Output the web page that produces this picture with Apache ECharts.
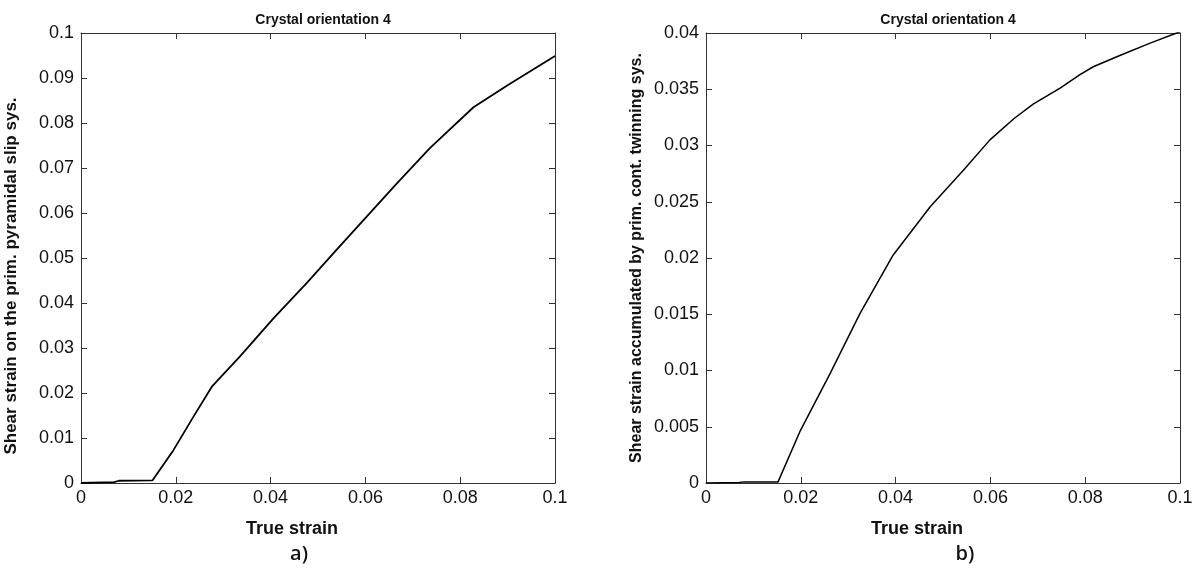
<!DOCTYPE html>
<html>
<head>
<meta charset="utf-8">
<script src="https://cdn.jsdelivr.net/npm/echarts@6/dist/echarts.min.js"></script>
<style>
  html, body { margin: 0; padding: 0; background: #fff; }
  #chart { width: 1200px; height: 571px; }
</style>
</head>
<body>
<div id="chart"></div>
<script>
// Panel a): shear strain on the primary pyramidal slip system
const strainA = [0, 0.007, 0.008, 0.0151, 0.0195, 0.0237, 0.0276, 0.0335, 0.0406, 0.0476, 0.0539, 0.0596, 0.0665, 0.0736, 0.0828, 0.0900, 0.1000];
const shearA  = [0, 0.0002, 0.0005, 0.0006, 0.0073, 0.0147, 0.0214, 0.0281, 0.0366, 0.0444, 0.0518, 0.0584, 0.0664, 0.0744, 0.0835, 0.0884, 0.0949];

// Panel b): shear strain accumulated by the primary contraction twinning system
const strainB = [0, 0.007, 0.008, 0.0152, 0.0198, 0.0262, 0.0325, 0.0395, 0.0473, 0.0543, 0.0599, 0.0650, 0.0691, 0.0747, 0.0789, 0.0817, 0.0873, 0.0937, 0.0993, 0.1000];
const shearB  = [0, 0.00005, 0.0001, 0.0001, 0.00456, 0.00975, 0.01508, 0.02027, 0.02456, 0.0278, 0.0305, 0.0324, 0.0337, 0.0351, 0.0363, 0.0370, 0.0380, 0.0391, 0.0400, 0.0401];

const xTicks = { min: 0, max: 0.1, interval: 0.02 };
const yTicksA = { min: 0, max: 0.1, interval: 0.01 };
const yTicksB = { min: 0, max: 0.04, interval: 0.005 };

const panelTitle = 'Crystal orientation 4';
const xName = 'True strain';
const yNameA = 'Shear strain on the prim. pyramidal slip sys.';
const yNameB = 'Shear strain accumulated by prim. cont. twinning sys.';

const fmt = v => String(+v.toFixed(4));
const axisColor = '#333';
const sans = 'Liberation Sans, Arial, sans-serif';
const labelFont = { fontFamily: sans, fontSize: 18, color: '#111' };

function pairs(xs, ys) { return xs.map((x, i) => [x, ys[i]]); }

function xAxes(gridIndex) {
  const base = {
    type: 'value', gridIndex, min: xTicks.min, max: xTicks.max, interval: xTicks.interval,
    axisLine: { show: true, onZero: false, lineStyle: { color: axisColor, width: 1 } },
    axisTick: { show: true, inside: true, length: 6, lineStyle: { color: axisColor } },
    splitLine: { show: false }
  };
  return [
    Object.assign({}, base, {
      position: 'bottom',
      axisLabel: Object.assign({ formatter: fmt, margin: 6 }, labelFont),
      name: xName, nameLocation: 'middle', nameGap: 37,
      nameTextStyle: { fontFamily: sans, fontSize: 18, fontWeight: 'bold', color: '#111', padding: [0, 52, 0, 0] }
    }),
    Object.assign({}, base, { position: 'top', axisLabel: { show: false } })
  ];
}

function yAxes(gridIndex, t, name, size, pad) {
  const base = {
    type: 'value', gridIndex, min: t.min, max: t.max, interval: t.interval,
    axisLine: { show: true, onZero: false, lineStyle: { color: axisColor, width: 1 } },
    axisTick: { show: true, inside: true, length: 6, lineStyle: { color: axisColor } },
    splitLine: { show: false }
  };
  return [
    Object.assign({}, base, {
      position: 'left',
      axisLabel: Object.assign({ formatter: fmt, margin: 7 }, labelFont),
      name, nameLocation: 'middle', nameGap: 61, nameRotate: 90,
      nameTextStyle: { fontFamily: sans, fontSize: size, fontWeight: 'bold', color: '#111', padding: pad }
    }),
    Object.assign({}, base, { position: 'right', axisLabel: { show: false } })
  ];
}

const titleStyle = { fontFamily: sans, fontSize: 14, fontWeight: 'bold', color: '#111' };
const panelTag = { fontFamily: 'Open Sans, Noto Sans, sans-serif', fontSize: 20, fontWeight: 600, color: '#111' };

const chart = echarts.init(document.getElementById('chart'), null, { renderer: 'canvas' });
chart.setOption({
  backgroundColor: '#fff',
  animation: false,
  title: [
    { text: panelTitle, left: 318, top: 8, textAlign: 'center', textStyle: titleStyle },
    { text: panelTitle, left: 943, top: 8, textAlign: 'center', textStyle: titleStyle },
    { text: 'a)', left: 294, top: 539, textAlign: 'center', textStyle: panelTag },
    { text: 'b)', left: 960, top: 539, textAlign: 'center', textStyle: panelTag }
  ],
  grid: [
    { left: 81, top: 33, width: 474, height: 450, containLabel: false },
    { left: 706, top: 33, width: 474, height: 450, containLabel: false }
  ],
  xAxis: [].concat(xAxes(0), xAxes(1)),
  yAxis: [].concat(
    yAxes(0, yTicksA, yNameA, 17, [0, 36, 0, 0]),
    yAxes(1, yTicksB, yNameB, 16, [0, 0, 0, 0])
  ),
  series: [
    { type: 'line', xAxisIndex: 0, yAxisIndex: 0, data: pairs(strainA, shearA),
      showSymbol: false, lineStyle: { color: '#000', width: 1.8 }, silent: true },
    { type: 'line', xAxisIndex: 2, yAxisIndex: 2, data: pairs(strainB, shearB),
      showSymbol: false, lineStyle: { color: '#000', width: 1.5 }, silent: true }
  ]
});
</script>
</body>
</html>
